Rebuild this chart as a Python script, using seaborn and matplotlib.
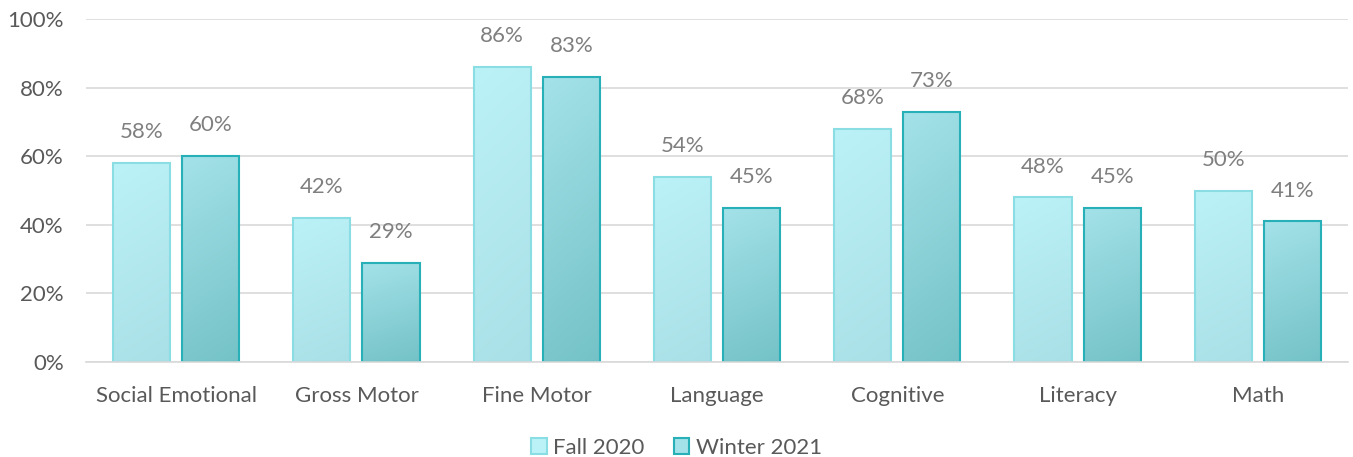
import numpy as np
import pandas as pd
import matplotlib
matplotlib.use('Agg')
import matplotlib.pyplot as plt
from matplotlib.colors import LinearSegmentedColormap
from matplotlib.patches import Patch
import seaborn as sns

sns.set_style('white')
plt.rcParams['font.family'] = ['Lato', 'DejaVu Sans']

# data
categories = ['Social Emotional', 'Gross Motor', 'Fine Motor', 'Language',
              'Cognitive', 'Literacy', 'Math']
fall_2020 = [58, 42, 86, 54, 68, 48, 50]
winter_2021 = [60, 29, 83, 45, 73, 45, 41]
periods = ['Fall 2020', 'Winter 2021']

df = pd.DataFrame({
    'category': categories * 2,
    'value': fall_2020 + winter_2021,
    'period': [periods[0]] * 7 + [periods[1]] * 7,
})

edge = {'Fall 2020': '#8adde3', 'Winter 2021': '#27b0b8'}
grad = {'Fall 2020': ('#bbf2f7', '#a9dfe6'), 'Winter 2021': ('#a3e2e8', '#74c2c7')}

fig = plt.figure(figsize=(13.53, 4.57), dpi=100)
ax = fig.add_axes([0.0636, 0.2079, 0.9327, 0.7505])

sns.barplot(data=df, x='category', y='value', hue='period', ax=ax,
            width=0.767, gap=0.174, legend=False,
            palette=['#bbf2f7', '#a3e2e8'])

ax.set_xlim(-0.5, 6.5)
ax.set_ylim(0, 100)

# gradient fill per bar, clipped to the bar shape
for container, per in zip(ax.containers, periods):
    cmap = LinearSegmentedColormap.from_list(per, [grad[per][0], grad[per][1]])
    for bar in container:
        bar.set_edgecolor(edge[per])
        bar.set_linewidth(1.5)
        x0, y0 = bar.get_x(), bar.get_y()
        w, h = bar.get_width(), bar.get_height()
        gy, gx = np.mgrid[0:1:100j, 0:1:20j]
        z = gy * 0.85 + gx * 0.15
        im = ax.imshow(z, cmap=cmap, extent=[x0, x0 + w, y0, y0 + h], origin='upper',
                       aspect='auto', zorder=bar.get_zorder(), interpolation='bilinear')
        im.set_clip_path(bar)
        bar.set_facecolor('none')
        bar.set_zorder(bar.get_zorder() + 0.1)

ax.set_xlim(-0.5, 6.5)
ax.set_ylim(0, 100)
for container in ax.containers:
    ax.bar_label(container, labels=[f'{v:.0f}%' for v in container.datavalues],
                 padding=15, color='#7f7f7f', fontsize=16)

ax.set_yticks(range(0, 101, 20))
ax.set_yticklabels([f'{t}%' for t in range(0, 101, 20)])
ax.yaxis.grid(True, color='#d9d9d9', linewidth=1.2)
ax.set_axisbelow(True)
ax.set_xlabel('')
ax.set_ylabel('')
for s in ['top', 'right', 'left']:
    ax.spines[s].set_visible(False)
ax.spines['bottom'].set_color('#d9d9d9')
ax.spines['bottom'].set_linewidth(1.2)
ax.tick_params(axis='both', length=0, labelsize=16, colors='#595959')
ax.tick_params(axis='x', pad=17)
ax.tick_params(axis='y', pad=16)

handles = [Patch(facecolor=grad[p][0], edgecolor=edge[p], linewidth=1.5, label=p) for p in periods]
fig.legend(handles=handles, loc='lower center', bbox_to_anchor=(0.5, -0.045), ncol=2,
           frameon=False, fontsize=16, handlelength=0.7, handleheight=0.7,
           handletextpad=0.3, columnspacing=1.3, labelcolor='#595959')

fig.savefig('out.png', dpi=100)
